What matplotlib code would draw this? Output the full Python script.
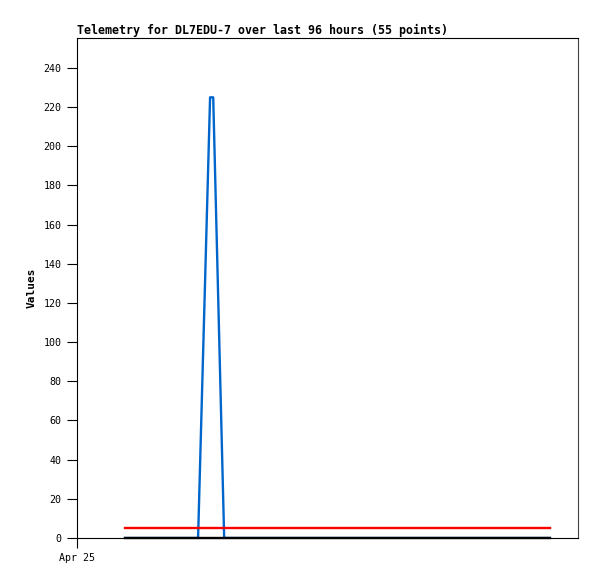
import matplotlib
matplotlib.use('Agg')
import matplotlib.pyplot as plt

# hours since start of the 96 h window
blue_t = [9.2, 23.2, 25.5, 26.1, 28.2, 90.6]
blue_v = [0, 0, 225, 225, 0, 0]
red_t = [9.2, 90.6]
red_v = [5, 5]
black_t = [9.2, 90.6]
black_v = [0, 0]

yticks = list(range(0, 241, 20))
title = "Telemetry for DL7EDU-7 over last 96 hours (55 points)"

plt.rcParams['font.family'] = ['DejaVu Sans Mono']

fig = plt.figure(figsize=(5.97, 5.79), dpi=100)
ax = fig.add_axes([77/597, 1-538/579, 501/597, 500/579])

ax.plot(blue_t, blue_v, color='#0066cc', lw=1.7)
ax.plot(red_t, red_v, color='#ff0000', lw=1.7)
ax.plot(black_t, black_v, color='black', lw=1.7, clip_on=False)

ax.set_xlim(0, 96)
ax.set_ylim(0, 255.3)
ax.set_yticks(yticks)
ax.set_xticks([0])
ax.set_xticklabels(["Apr 25"])
ax.tick_params(axis='both', direction='out', length=7, width=0.8, labelsize=7.2, pad=4)
ax.set_ylabel("Values", fontsize=8, fontweight='bold', labelpad=5)
ax.set_title(title, loc='left', fontsize=8.35, fontweight='bold', pad=3)
for s in ax.spines.values():
    s.set_linewidth(0.8)
ax.spines['right'].set_color('#444444')

fig.savefig('out.png', dpi=100)
